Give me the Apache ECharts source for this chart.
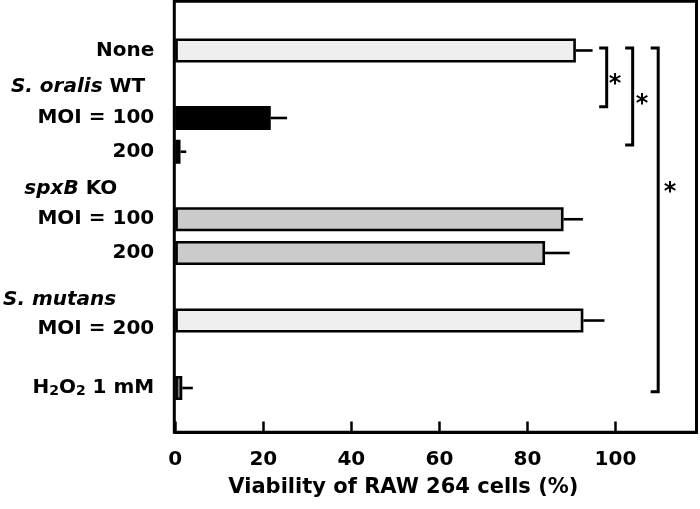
<!DOCTYPE html>
<html><head><meta charset="utf-8">
<script src="https://cdn.jsdelivr.net/npm/echarts@6/dist/echarts.min.js"></script>
<style>html,body{margin:0;padding:0;background:#fff}#c{width:700px;height:509px}</style>
</head><body><div id="c"></div>
<script>
// Row labels (rich-text markup), top to bottom
const rowLabels = [
  '{b|None}',
  '{r1i|S. oralis}{r1b| WT}',
  '{b|MOI = 100}',
  '{b|200}',
  '{r4i|spxB}{r4b| KO}',
  '{b|MOI = 100}',
  '{b|200}',
  '{r7|S. mutans}',
  '{r8|MOI = 200}',
  '',
  '{h|H}{s|2}{h|O}{s|2}{h| 1 mM}'
];
const viability = [91.0, null, 21.7, 1.2, null, 88.2, 84.0, null, 92.7, null, 1.6];
const errors    = [3.8,  null, 3.7,  1.3, null, 4.4,  5.6,  null, 4.8,  null, 2.4];
const groups    = ['control', null, 'wt', 'wt', null, 'ko', 'ko', null, 'mutans', null, 'h2o2'];
const xTicks = [0, 20, 40, 60, 80, 100];
// significance brackets: vertical line x, top/bottom (row units), star x, star row
const bracketX   = [98.0, 103.9, 109.7];
const bracketTop = [-0.074, -0.074, -0.074];
const bracketBot = [1.665, 2.8, 10.11];
const starX      = [99.9, 106.0, 112.4];
const starRow    = [0.874, 1.467, 4.074];
const starText   = ['*', '*', '*'];

const F = 'DejaVu Sans';
const fills = {control: '#efefef', wt: '#000000', ko: '#cbcbcb', mutans: '#efefef', h2o2: '#777777'};
const base = {fontFamily: F, fontWeight: 'bold', fontSize: 20, color: '#000'};

const barData = viability.map((v, i) => v == null ? '-' : {value: [v, i], itemStyle: {color: fills[groups[i]]}});
const errData = [];
viability.forEach((v, i) => { if (v != null) errData.push([v, v + errors[i], i]); });
const brData = bracketX.map((x, k) => [x, 0, bracketTop[k], bracketBot[k], starX[k], starRow[k], k]);

const chart = echarts.init(document.getElementById('c'));
chart.setOption({
  animation: false,
  backgroundColor: '#fff',
  grid: [
    {left: 174.3, right: 3.5, top: 33.6, bottom: 104.1},
    {left: 174.3, right: 3.5, top: 1.2, bottom: 76.7, show: true, borderWidth: 3, borderColor: '#000', backgroundColor: 'transparent'}
  ],
  xAxis: [
    {gridIndex: 0, type: 'value', min: 0, max: 118.4, interval: 20, position: 'bottom', offset: 27.6,
     axisLine: {show: true, lineStyle: {color: '#000', width: 3}},
     axisTick: {show: true, inside: true, length: 11, lineStyle: {color: '#000', width: 2.5}},
     splitLine: {show: false},
     axisLabel: Object.assign({margin: 17, formatter: v => xTicks.includes(v) ? String(v) : ''}, base),
     name: 'Viability of RAW 264 cells (%)', nameLocation: 'middle', nameGap: 45,
     nameTextStyle: {fontFamily: F, fontWeight: 'bold', fontSize: 21, color: '#000', padding: [0, 65, 0, 0]}
    },
    {gridIndex: 1, type: 'value', show: false, min: 0, max: 1}
  ],
  yAxis: [
    {gridIndex: 0, type: 'category', inverse: true,
     data: rowLabels.map((_, i) => 'row' + i),
     axisLine: {show: false}, axisTick: {show: false}, splitLine: {show: false},
     axisLabel: {
       interval: 0, margin: 21, color: '#000', fontFamily: F, fontWeight: 'bold', fontSize: 20,
       formatter: (v, i) => rowLabels[i],
       rich: {
         b: base,
         r1i: Object.assign({}, base, {fontStyle: 'italic', padding: [6, 0, 0, 0]}),
         r1b: Object.assign({}, base, {padding: [6, 9, 0, 0]}),
         r4i: Object.assign({}, base, {fontStyle: 'italic', padding: [7, 0, 0, 0]}),
         r4b: Object.assign({}, base, {padding: [7, 37, 0, 0]}),
         r7: Object.assign({}, base, {fontStyle: 'italic', padding: [26, 38, 0, 0]}),
         r8: Object.assign({}, base, {padding: [17, 0, 0, 0]}),
         h: Object.assign({}, base, {verticalAlign: 'bottom'}),
         s: Object.assign({}, base, {fontSize: 14, verticalAlign: 'bottom'})
       }
     }
    },
    {gridIndex: 1, type: 'value', show: false, min: 0, max: 1}
  ],
  series: [
    {type: 'bar', xAxisIndex: 0, yAxisIndex: 0, barWidth: 24, data: barData,
     itemStyle: {borderColor: '#000', borderWidth: 2.6}},
    {type: 'custom', xAxisIndex: 0, yAxisIndex: 0, data: errData, encode: {x: [0, 1], y: 2}, z: 3,
     renderItem: (params, api) => {
       const a = api.coord([api.value(0), api.value(2)]);
       const b = api.coord([api.value(1), api.value(2)]);
       return {type: 'line', shape: {x1: a[0], y1: a[1], x2: b[0], y2: b[1]}, style: {stroke: '#000', lineWidth: 2.6}};
     }},
    {type: 'custom', xAxisIndex: 0, yAxisIndex: 0, data: brData, encode: {x: 0, y: 1}, z: 3, clip: false,
     renderItem: (params, api) => {
       const p = api.coord([api.value(0), 0]);
       const slot = api.size([0, 1])[1];
       const top = p[1] + api.value(2) * slot;
       const bot = p[1] + api.value(3) * slot;
       const x = p[0];
       const s = api.coord([api.value(4), 0]);
       return {type: 'group', children: [
         {type: 'polyline', shape: {points: [[x - 7.5, top], [x, top], [x, bot], [x - 7.5, bot]]},
          style: {stroke: '#000', lineWidth: 3, fill: null}},
         {type: 'text', x: s[0], y: p[1] + api.value(5) * slot + 5,
          style: {text: starText[api.value(6)], fontSize: 24, fontWeight: 'bold', fontFamily: F, fill: '#000', align: 'center', verticalAlign: 'middle'}}
       ]};
     }}
  ]
});
</script>
</body></html>
